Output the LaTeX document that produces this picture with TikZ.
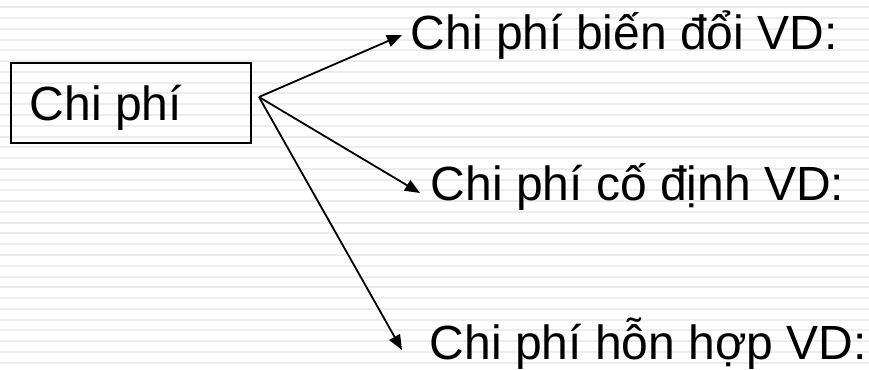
\documentclass[tikz,border=0pt]{standalone}
\usepackage{fontspec}
\setmainfont{Liberation Sans}
\usetikzlibrary{arrows.meta}
\begin{document}
\begin{tikzpicture}[x=1pt,y=-1pt,
  stripe/.style={draw=gray!15,line width=2pt},
  boxstyle/.style={draw=black,line width=1.9pt,minimum width=240pt,minimum height=80pt,inner sep=0pt,anchor=north west},
  label/.style={anchor=base west,inner sep=0pt,font=\fontsize{48}{58}\selectfont},
  conn/.style={line width=1.8pt,-{Triangle[length=15pt,width=12pt]}}]
\useasboundingbox (0,0) rectangle (869,369);
\fill[white] (0,0) rectangle (869,369);
\foreach \k in {0,...,33}
  \draw[stripe] (0,{7.3+\k*10.77}) -- (869,{7.3+\k*10.77});
\node[boxstyle] (box) at (10,62) {};
\node[label] (boxtext) at (29.6,120) {Chi phí};
\node[label] (t1) at (410.6,49) {Chi phí biến đổi VD:};
\node[label] (t2) at (430.6,200) {Chi phí cố định VD:};
\node[label] (t3) at (429.6,359) {Chi phí hỗn hợp VD:};
\coordinate (hub) at (259,97);
\coordinate (e1) at (402,35);
\coordinate (e2) at (420,193);
\coordinate (e3) at (402,350);
\draw[conn] (hub) -- (e1);
\draw[conn] (hub) -- (e2);
\draw[conn] (hub) -- (e3);
\end{tikzpicture}
\end{document}
